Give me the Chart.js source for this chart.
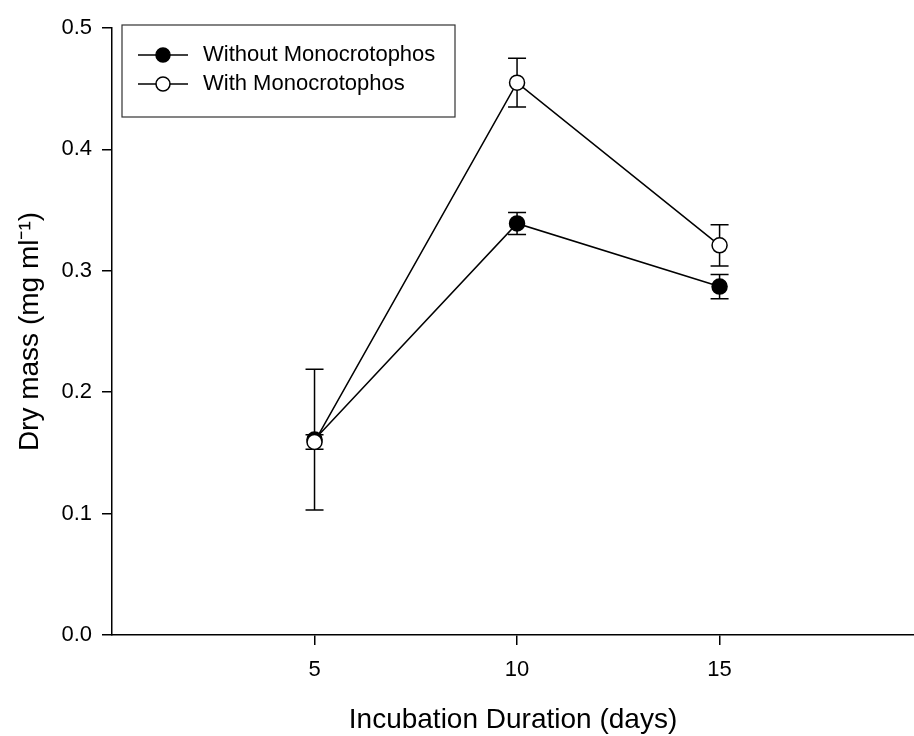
<!DOCTYPE html>
<html>
<head>
<meta charset="utf-8">
<script src="https://cdn.jsdelivr.net/npm/chart.js@4/dist/chart.umd.min.js"></script>
<style>
  body { margin: 0; background: #fff; }
  #wrap { width: 914px; height: 736px; }
</style>
</head>
<body>
<div id="wrap"><canvas id="dryMassChart"></canvas></div>
<script>
// Values
const days = [5, 10, 15];
const withoutMono = [0.161, 0.339, 0.287];
const withoutErr = [0.058, 0.009, 0.010];
const withMono = [0.159, 0.455, 0.321];
const withErr = [0.006, 0.020, 0.017];
const xTicks = [5, 10, 15];
const yTicks = [0, 0.1, 0.2, 0.3, 0.4, 0.5];
const seriesNames = ["Without Monocrotophos", "With Monocrotophos"];

const FONT = '"Liberation Sans", Arial, sans-serif';

// error bars drawn under the markers
const errorBars = {
  id: "errorBars",
  beforeDatasetsDraw(chart) {
    const ctx = chart.ctx;
    const x = chart.scales.x, y = chart.scales.y;
    ctx.save();
    ctx.strokeStyle = "#000";
    ctx.lineWidth = 1.5;
    chart.data.datasets.forEach(ds => {
      ds.data.forEach((p, i) => {
        const px = x.getPixelForValue(p.x);
        const top = y.getPixelForValue(p.y + ds.errors[i]);
        const bot = y.getPixelForValue(p.y - ds.errors[i]);
        ctx.beginPath();
        ctx.moveTo(px, top); ctx.lineTo(px, bot);
        ctx.moveTo(px - 9, top); ctx.lineTo(px + 9, top);
        ctx.moveTo(px - 9, bot); ctx.lineTo(px + 9, bot);
        ctx.stroke();
      });
    });
    ctx.restore();
  }
};

// boxed legend inside the plot, like the original
const boxLegend = {
  id: "boxLegend",
  afterDraw(chart) {
    const ctx = chart.ctx;
    ctx.save();
    ctx.strokeStyle = "#333";
    ctx.lineWidth = 1.2;
    ctx.strokeRect(122, 25, 333, 92);
    const rows = [55, 84];
    const fills = ["#000", "#fff"];
    rows.forEach((ry, i) => {
      ctx.strokeStyle = "#000";
      ctx.lineWidth = 1.5;
      ctx.beginPath();
      ctx.moveTo(138, ry); ctx.lineTo(188, ry);
      ctx.stroke();
      ctx.beginPath();
      ctx.arc(163, ry, 7, 0, Math.PI * 2);
      ctx.fillStyle = fills[i];
      ctx.fill();
      ctx.stroke();
      ctx.fillStyle = "#000";
      ctx.font = "22px " + FONT;
      ctx.textBaseline = "middle";
      ctx.fillText(seriesNames[i], 203, ry);
    });
    ctx.restore();
  }
};

const ctx = document.getElementById("dryMassChart").getContext("2d");
new Chart(ctx, {
  type: "line",
  data: {
    datasets: [
      {
        label: seriesNames[0],
        data: days.map((d, i) => ({ x: d, y: withoutMono[i] })),
        errors: withoutErr,
        borderColor: "#000",
        borderWidth: 1.5,
        pointRadius: 7.5,
        pointBackgroundColor: "#000",
        pointBorderColor: "#000",
        pointBorderWidth: 1.5,
        order: 2
      },
      {
        label: seriesNames[1],
        data: days.map((d, i) => ({ x: d, y: withMono[i] })),
        errors: withErr,
        borderColor: "#000",
        borderWidth: 1.5,
        pointRadius: 7.5,
        pointBackgroundColor: "#fff",
        pointBorderColor: "#000",
        pointBorderWidth: 1.5,
        order: 1
      }
    ]
  },
  options: {
    responsive: true,
    maintainAspectRatio: false,
    animation: false,
    layout: { autoPadding: false, padding: { top: 28, right: 0, left: 0, bottom: 0 } },
    plugins: { legend: { display: false }, tooltip: { enabled: false } },
    scales: {
      x: {
        type: "linear",
        min: 0,
        max: 19.8,
        afterBuildTicks: s => { s.ticks = xTicks.map(v => ({ value: v })); },
        afterFit: s => { s.height = 101; },
        grid: { drawOnChartArea: false, color: "#000", lineWidth: 1.5, tickLength: 10 },
        border: { color: "#000", width: 1.5 },
        ticks: { color: "#000", font: { family: FONT, size: 22 }, padding: 12 },
        title: {
          display: true,
          text: "Incubation Duration (days)",
          color: "#000",
          font: { family: FONT, size: 28, lineHeight: 1 },
          padding: { top: 0, bottom: 2 }
        }
      },
      y: {
        min: 0,
        max: 0.5,
        afterBuildTicks: s => { s.ticks = yTicks.map(v => ({ value: v })); },
        afterFit: s => { s.width = 112; },
        grid: { drawOnChartArea: false, color: "#000", lineWidth: 1.5, tickLength: 10 },
        border: { color: "#000", width: 1.5 },
        ticks: {
          color: "#000",
          font: { family: FONT, size: 22 },
          padding: 10,
          callback: v => v.toFixed(1)
        },
        title: {
          display: true,
          text: "Dry mass (mg ml\u207B\u00B9)",
          color: "#000",
          font: { family: FONT, size: 28, lineHeight: 1 },
          padding: { top: 16, bottom: 0 }
        }
      }
    }
  },
  plugins: [errorBars, boxLegend]
});
</script>
</body>
</html>
